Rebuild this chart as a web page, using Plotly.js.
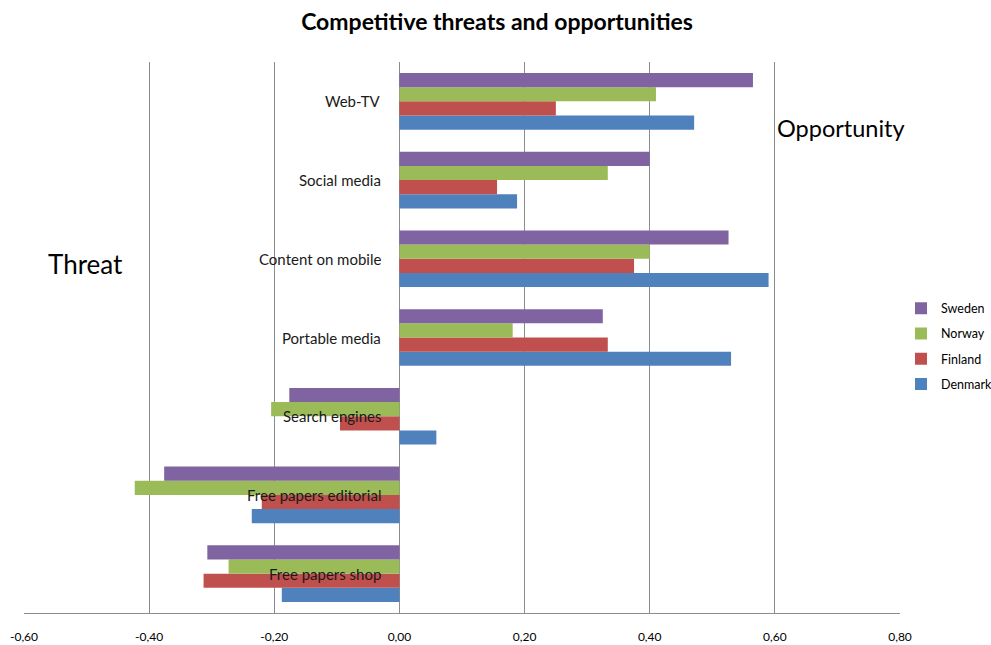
<!DOCTYPE html>
<html>
<head>
<meta charset="utf-8">
<script src="https://cdn.plot.ly/plotly-3.0.1.min.js"></script>
<style>html,body{margin:0;padding:0;background:#fff;}#chart{width:991px;height:645px;}</style>
</head>
<body>
<div id="chart"></div>
<script>
const categories = ["Web-TV", "Social media", "Content on mobile", "Portable media", "Search engines", "Free papers editorial", "Free papers shop"];
const sweden  = [0.565, 0.400, 0.526, 0.325, -0.176, -0.376, -0.307];
const norway  = [0.410, 0.333, 0.400, 0.181, -0.205, -0.423, -0.273];
const finland = [0.250, 0.156, 0.375, 0.333, -0.095, -0.220, -0.313];
const denmark = [0.471, 0.188, 0.590, 0.530, 0.059, -0.236, -0.188];
const tickVals = [-0.6, -0.4, -0.2, 0, 0.2, 0.4, 0.6, 0.8];
const tickLabels = ["-0,60", "-0,40", "-0,20", "0,00", "0,20", "0,40", "0,60", "0,80"];

const font = "Lato, 'Open Sans', sans-serif";
function tr(name, vals, color, rank) {
  return {type: "bar", orientation: "h", name: name, x: vals, y: categories,
          legendgroup: name, legendrank: rank,
          marker: {color: color, line: {width: 0}}, hoverinfo: "x+name"};
}
const data = [
  tr("Denmark", denmark, "#4F81BD", 4),
  tr("Finland", finland, "#C0504D", 3),
  tr("Norway", norway, "#9BBB59", 2),
  tr("Sweden", sweden, "#8064A2", 1)
];

const annotations = categories.map(c => ({
  xref: "x", yref: "y", x: 0, y: c, text: c, showarrow: false,
  xanchor: "right", yanchor: "middle", xshift: -16,
  font: {family: font, size: 15, color: "#1a1a1a"}
}));
annotations.push({xref: "paper", yref: "paper", x: (85 - 24) / 876, y: 1 - (264 - 62) / 551, text: "Threat",
  showarrow: false, xanchor: "center", yanchor: "middle", font: {family: font, size: 26, color: "#000"}});
annotations.push({xref: "paper", yref: "paper", x: (841 - 24) / 876, y: 1 - (128 - 62) / 551, text: "Opportunity",
  showarrow: false, xanchor: "center", yanchor: "middle", font: {family: font, size: 23.5, color: "#000"}});

const layout = {
  width: 991, height: 645,
  margin: {l: 24, r: 91, t: 62, b: 32, autoexpand: false},
  paper_bgcolor: "#fff", plot_bgcolor: "#fff",
  title: {text: "<b>Competitive threats and opportunities</b>", x: 497 / 991, xref: "container", xanchor: "center",
          y: 1 - 22 / 645, yanchor: "middle",
          font: {family: font, size: 23, color: "#000"}},
  barmode: "group", bargap: 0.28, bargroupgap: 0,
  xaxis: {range: [-0.6, 0.8], tickvals: tickVals, ticktext: tickLabels,
          showgrid: true, gridcolor: "#8c8c8c", gridwidth: 1,
          zeroline: true, zerolinecolor: "#8c8c8c", zerolinewidth: 1,
          showline: true, linecolor: "#8c8c8c", linewidth: 1,
          ticks: "", ticklabelstandoff: 13, fixedrange: true,
          tickfont: {family: font, size: 12, color: "#000"}},
  yaxis: {type: "category", range: [-0.5, 6.5], autorange: false, categoryorder: "array",
          categoryarray: categories.slice().reverse(), showticklabels: false, showgrid: false,
          zeroline: false, showline: false, ticks: "", fixedrange: true},
  showlegend: true,
  legend: {x: (901 - 24) / 876, xanchor: "left", y: 1 - (346 - 62) / 551, yanchor: "middle", traceorder: "grouped",
           tracegroupgap: 6, font: {family: font, size: 12.5, color: "#000"}, itemwidth: 30,
           bgcolor: "rgba(0,0,0,0)"},
  annotations: annotations
};
Plotly.newPlot("chart", data, layout, {displayModeBar: false, staticPlot: true});
</script>
</body>
</html>
